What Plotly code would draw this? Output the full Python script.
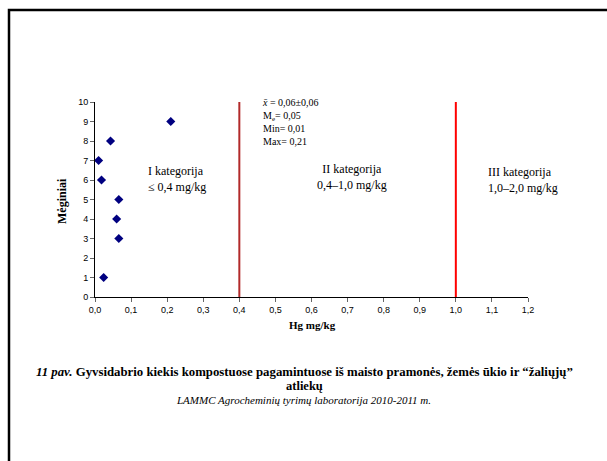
import plotly.graph_objects as go

# Hg content of compost samples (mg/kg) by sample number
samples = [1, 3, 4, 5, 6, 7, 8, 9]
hg_values = [0.024, 0.066, 0.060, 0.066, 0.018, 0.010, 0.043, 0.210]

# Category boundaries (mg/kg)
category_limits = [0.4, 1.0]
limit_colors = ["#B22A2A", "#FF0000"]

x_ticks = [0.0, 0.1, 0.2, 0.3, 0.4, 0.5, 0.6, 0.7, 0.8, 0.9, 1.0, 1.1, 1.2]
y_ticks = list(range(0, 11))

stats_lines = ["<i>x̄</i> = 0,06±0,06", "M<sub>e</sub>= 0,05", "Min= 0,01", "Max= 0,21"]

W, H = 607, 461
ML, MR, MT, MB = 95, 79, 60, 164
PW, PH = W - ML - MR, H - MT - MB


def px_x(px):
    return (px - ML) / PW


def px_y(py):
    return (H - MB - py) / PH


serif = "Liberation Serif, Times New Roman, serif"
sans = "Liberation Sans, Arial, sans-serif"

fig = go.Figure()

fig.add_trace(go.Scatter(
    x=hg_values, y=samples, mode="markers",
    marker=dict(symbol="diamond", size=7, color="#000080", line=dict(width=0)),
    xaxis="x", yaxis="y", showlegend=False, hoverinfo="x+y",
))

# Category boundary lines, drawn on a taller overlay subplot
for lim, col in zip(category_limits, limit_colors):
    fig.add_shape(type="line", xref="x2", yref="y2",
                  x0=lim, x1=lim, y0=0, y1=1,
                  line=dict(color=col, width=2))

y_top_px = 102  # top of value axis (y = 10)

fig.update_layout(
    width=W, height=H,
    margin=dict(l=ML, r=MR, t=MT, b=MB, pad=0),
    paper_bgcolor="white", plot_bgcolor="rgba(0,0,0,0)",
    separators=", ",
    showlegend=False,
    xaxis=dict(
        domain=[0, 1], range=[0, 1.2], anchor="y",
        tickvals=x_ticks, tickformat=".1f",
        showline=True, linecolor="black", linewidth=1,
        ticks="outside", ticklen=4, tickcolor="#666", tickwidth=1,
        showgrid=False, zeroline=False,
        tickfont=dict(family=sans, size=9, color="black"),
    ),
    yaxis=dict(
        domain=[0, px_y(y_top_px)], range=[0, 10], anchor="x",
        tickvals=y_ticks,
        showline=True, linecolor="black", linewidth=1,
        ticks="outside", ticklen=4, tickcolor="#666", tickwidth=1,
        showgrid=False, zeroline=False,
        tickfont=dict(family=sans, size=9, color="black"),
    ),
    xaxis2=dict(domain=[0, 1], range=[0, 1.2], anchor="y2", overlaying="x",
                visible=False),
    yaxis2=dict(domain=[0, 1], range=[0, 1], anchor="x2", overlaying="y",
                visible=False),
)

lbl = dict(family=serif, size=12, color="black")
annotations = [
    dict(text="<b>Hg mg/kg</b>", x=px_x(312), y=px_y(325),
         font=dict(family=serif, size=11, color="black")),
    dict(text="<b>Mėginiai</b>", x=px_x(62), y=px_y(201), textangle=-90,
         font=dict(family=serif, size=12, color="black")),
    dict(text="I kategorija<br>≤ 0,4 mg/kg", x=px_x(146), y=px_y(178.5),
         xanchor="left", align="left", font=lbl),
    dict(text="II kategorija<br>0,4–1,0 mg/kg", x=px_x(352), y=px_y(177),
         align="center", font=lbl),
    dict(text="III kategorija<br>1,0–2,0 mg/kg", x=px_x(486), y=px_y(180),
         xanchor="left", align="left", font=lbl),
    dict(text="<br>".join(stats_lines), x=px_x(260), y=px_y(122),
         xanchor="left", align="left",
         font=dict(family=serif, size=10, color="black")),
    dict(text="<b><i>11 pav.</i> Gyvsidabrio kiekis kompostuose pagamintuose iš maisto pramonės, "
              "žemės ūkio ir “žaliųjų”</b>",
         x=px_x(304), y=px_y(372),
         font=dict(family=serif, size=12.8, color="black")),
    dict(text="<b>atliekų</b>", x=px_x(304), y=px_y(386),
         font=dict(family=serif, size=12.5, color="black")),
    dict(text="<i>LAMMC Agrocheminių tyrimų laboratorija 2010-2011 m.</i>",
         x=px_x(303), y=px_y(400),
         font=dict(family=serif, size=11, color="black")),
]
for a in annotations:
    a.setdefault("xanchor", "center")
    a.setdefault("yanchor", "middle")
    fig.add_annotation(xref="paper", yref="paper", showarrow=False, **a)

# Page frame (top and left edges)
fig.add_shape(type="rect", xref="paper", yref="paper",
              x0=px_x(9), x1=px_x(W + 20), y0=px_y(10), y1=px_y(H + 20),
              line=dict(color="black", width=2.5), fillcolor="rgba(0,0,0,0)")

fig.write_html("out.html")
